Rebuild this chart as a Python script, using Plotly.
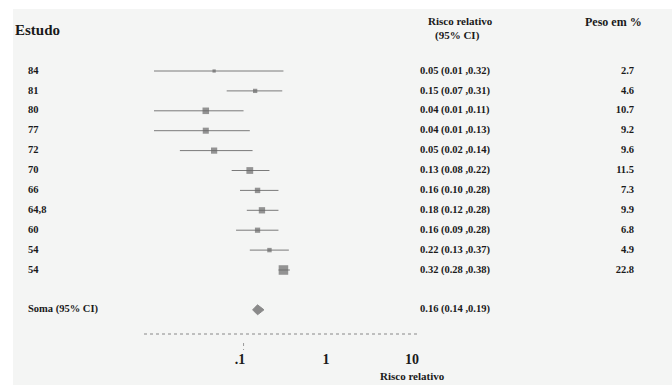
import math
import plotly.graph_objects as go

# ---- data ----
studies = ["84", "81", "80", "77", "72", "70", "66", "64,8", "60", "54", "54"]
rr = [0.05, 0.15, 0.04, 0.04, 0.05, 0.13, 0.16, 0.18, 0.16, 0.22, 0.32]
ci_low = [0.01, 0.07, 0.01, 0.01, 0.02, 0.08, 0.10, 0.12, 0.09, 0.13, 0.28]
ci_high = [0.32, 0.31, 0.11, 0.13, 0.14, 0.22, 0.28, 0.28, 0.28, 0.37, 0.38]
weights = [2.7, 4.6, 10.7, 9.2, 9.6, 11.5, 7.3, 9.9, 6.8, 4.9, 22.8]
pooled_label = "Soma (95% CI)"
pooled_rr = 0.16
pooled_low = 0.14
pooled_high = 0.19
tick_vals = [0.1, 1, 10]
tick_text = [".1", "1", "10"]

W, H = 672, 385
BG = "#f4f5f4"
FONT = "Liberation Serif"
TXT = "#1a1a1a"

rows = list(range(len(studies)))
pooled_row = len(studies) + 1

# pixel geometry helpers (layout only)
row0_px, row_step = 71, 19.9
axis_px = 334
y_top = -row0_px / row_step
y_bot = (axis_px - row0_px) / row_step
# log axis: 0.1 at x=240, 86 px per decade
x_left_px, x_right_px = 144, 418
lg_left = -1 + (x_left_px - 240) / 86
lg_right = -1 + (x_right_px - 240) / 86

fig = go.Figure()

# CI lines
cx, cy = [], []
for i in rows:
    cx += [ci_low[i], ci_high[i], None]
    cy += [i, i, None]
fig.add_trace(go.Scatter(x=cx, y=cy, mode="lines",
                         line=dict(color="#7a7a7a", width=1),
                         hoverinfo="skip", showlegend=False))
# squares
fig.add_trace(go.Scatter(x=rr, y=rows, mode="markers",
                         marker=dict(symbol="square", color="#6a6a6a",
                                     size=[2.0 * math.sqrt(w) for w in weights],
                                     line=dict(width=0)),
                         hoverinfo="skip", showlegend=False))
# pooled diamond
fig.add_trace(go.Scatter(x=[pooled_low, pooled_rr, pooled_high, pooled_rr, pooled_low],
                         y=[pooled_row, pooled_row - 0.25, pooled_row, pooled_row + 0.25, pooled_row],
                         mode="lines", fill="toself", fillcolor="#8a8a8a",
                         line=dict(color="#8a8a8a", width=1),
                         hoverinfo="skip", showlegend=False))

# text columns (on a pixel-based secondary x axis)
fs = 10.5
def b(s):
    return f"<b>{s}</b>"

fig.add_trace(go.Scatter(x=[28] * len(studies), y=rows, text=[b(s) for s in studies], mode="text",
                         textposition="middle right", xaxis="x2",
                         textfont=dict(family=FONT, size=fs, color=TXT),
                         hoverinfo="skip", showlegend=False))
rr_text = [b(f"{r:.2f} ({l:.2f} ,{h:.2f})") for r, l, h in zip(rr, ci_low, ci_high)]
fig.add_trace(go.Scatter(x=[420] * len(studies), y=rows, text=rr_text, mode="text",
                         textposition="middle right", xaxis="x2",
                         textfont=dict(family=FONT, size=fs, color=TXT),
                         hoverinfo="skip", showlegend=False))
fig.add_trace(go.Scatter(x=[634] * len(studies), y=rows, text=[b(f"{w:.1f}") for w in weights],
                         mode="text", textposition="middle left", xaxis="x2",
                         textfont=dict(family=FONT, size=fs, color=TXT),
                         hoverinfo="skip", showlegend=False))
fig.add_trace(go.Scatter(x=[28, 420], y=[pooled_row, pooled_row],
                         text=[b(pooled_label), b(f"{pooled_rr:.2f} ({pooled_low:.2f} ,{pooled_high:.2f})")],
                         mode="text", textposition="middle right", xaxis="x2",
                         textfont=dict(family=FONT, size=fs, color=TXT),
                         hoverinfo="skip", showlegend=False))

ann = [
    ("<b>Estudo</b>", 13, 30, "left", 15),
    ("<b>Risco relativo</b>", 460, 21, "center", 11),
    ("<b>(95% CI)</b>", 457, 35, "center", 11),
    ("<b>Peso em %</b>", 613, 22, "center", 12),
    ("<b>Risco relativo</b>", 412, 376, "center", 11),
]
annotations = []
for text, ax, ay, anchor, size in ann:
    annotations.append(dict(text=text, x=ax / W, y=1 - ay / H,
                            xref="paper", yref="paper", xanchor=anchor, yanchor="middle",
                            showarrow=False,
                            font=dict(family=FONT, color=TXT, size=size)))

fig.update_layout(
    width=W, height=H, margin=dict(l=0, r=0, t=0, b=0),
    paper_bgcolor="white", plot_bgcolor="rgba(0,0,0,0)",
    showlegend=False,
    xaxis=dict(type="log", domain=[x_left_px / W, x_right_px / W],
               range=[lg_left, lg_right], tickvals=tick_vals,
               ticktext=[b(t) for t in tick_text],
               ticks="", ticklabelstandoff=15, showgrid=False, zeroline=False,
               showline=False, anchor="y",
               tickfont=dict(family=FONT, size=14, color=TXT)),
    xaxis2=dict(domain=[0, 1], range=[0, W], visible=False, anchor="y"),
    yaxis=dict(domain=[1 - axis_px / H, 1], range=[y_bot, y_top], visible=False),
    annotations=annotations,
    shapes=[
        dict(type="rect", xref="paper", yref="paper", x0=13 / W, x1=1, y0=0, y1=1 - 9 / H,
             fillcolor=BG, line=dict(width=0), layer="below"),
        dict(type="line", xref="paper", yref="paper", x0=x_left_px / W, x1=x_right_px / W,
             y0=1 - axis_px / H, y1=1 - axis_px / H,
             line=dict(color="#888", width=1, dash="dot")),
        dict(type="line", xref="x", yref="paper", x0=0.11, x1=0.11,
             y0=1 - 343 / H, y1=1 - 350 / H,
             line=dict(color="#999", width=1, dash="dot")),
    ],
)

fig.write_html("out.html")
